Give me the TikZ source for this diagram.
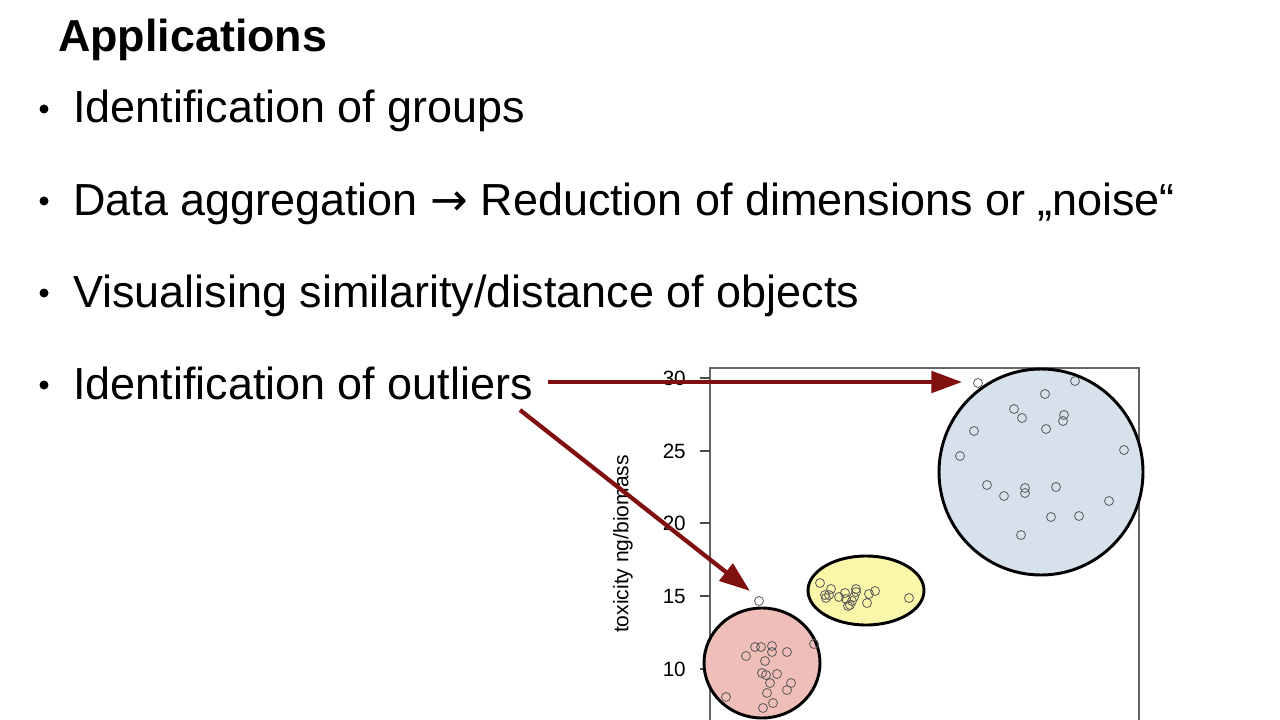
\documentclass[tikz,border=0pt]{standalone}
\usepackage{fontspec}
\setmainfont{Liberation Sans}
\usetikzlibrary{arrows.meta}
\begin{document}
\begin{tikzpicture}[x=0.75pt,y=-0.75pt,
  bul/.style={anchor=base west,font=\fontsize{33.7}{40}\selectfont,inner sep=0},
  tick/.style={anchor=east,font=\fontsize{15.5}{18}\selectfont,inner sep=0},
  pt/.style={draw=black!65,line width=0.6pt},
  grp/.style={draw=black,line width=2.2pt},
  arr/.style={draw={rgb,255:red,128;green,16;blue,16},line width=3.2pt,-{Triangle[length=23pt,width=16pt]}}]
\useasboundingbox (0,0) rectangle (1280,720);
\node[anchor=base west,font=\fontsize{33.6}{40}\selectfont\bfseries,inner sep=0] (title) at (58,52) {Applications};
\foreach \y/\t [count=\i] in {123/{Identification of groups},215/{Data aggregation {\fontspec{DejaVu Sans}→} Reduction of dimensions or „noise“},307/{Visualising similarity/distance of objects},399/{Identification of outliers}}{
  \node[bul] (b\i) at (73,\y) {\t};
  \fill (44,\y-14) circle (4.5);
}
% plot frame
\draw[black!60,line width=0.8pt] (710,720) -- (710,368) -- (1139,368) -- (1139,720);
\foreach \v/\yy in {30/378,25/451,20/523,15/596,10/669}{
  \draw[black!70,line width=0.8pt] (700,\yy) -- (710,\yy);
  \node[tick] (t\v) at (686,\yy) {\v};
}
\node[rotate=90,font=\fontsize{15.8}{18}\selectfont] (ylab) at (623,544) {toxicity ng/biomass};
% groups
\draw[grp,fill={rgb,255:red,214;green,225;blue,236}] (1041,472) ellipse (102 and 103);
\draw[grp,fill={rgb,255:red,250;green,247;blue,170}] (866,590.5) ellipse (58 and 34.5);
\draw[grp,fill={rgb,255:red,240;green,190;blue,185}] (762,663) ellipse (58 and 55);
\foreach \px/\py in {978/383,1075/381,1045/394,1014/409,1022/418,1064/415,1063/421,1046/429,974/431,960/456,1124/450,987/485,1004/496,1025/488,1025/493,1056/487,1109/501,1051/517,1079/516,1021/535,
 820/583,825/595,826/598,831/589,839/597,845/593,846/599,850/605,852/601,854/597,856/589,856/592,867/603,869/594,875/591,909/598,829/595,848/606,
 759/601,814/644,746/656,755/647,761/647,772/646,772/652,787/652,765/661,762/673,766/675,777/674,770/683,791/683,787/690,767/693,726/697,763/708,773/703}
  \draw[pt] (\px,\py) circle (4.5);
\coordinate (a1s) at (548,382); \coordinate (a1e) at (962,382);
\coordinate (a2s) at (520,410); \coordinate (a2e) at (750,591);
\draw[arr] (a1s) -- (a1e);
\draw[arr] (a2s) -- (a2e);
\end{tikzpicture}
\end{document}
